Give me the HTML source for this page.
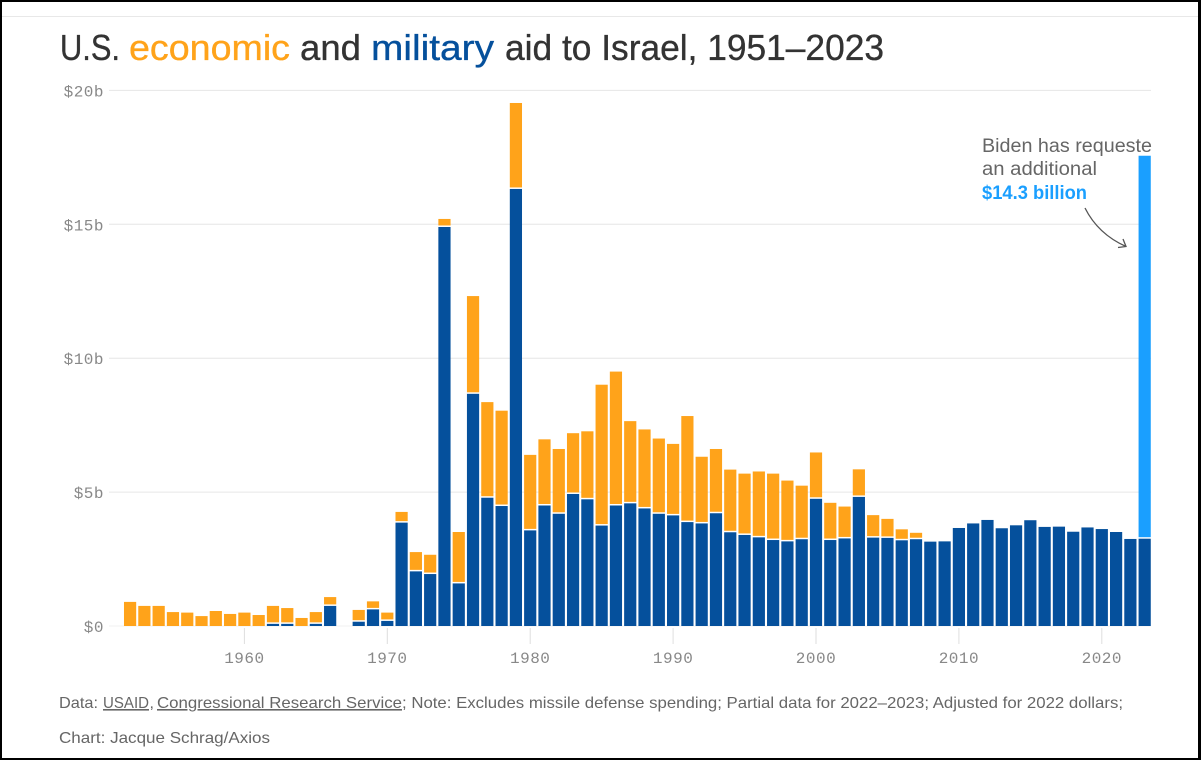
<!DOCTYPE html>
<html lang="en">
<head>
<meta charset="utf-8">
<title>U.S. economic and military aid to Israel, 1951–2023</title>
<style>
  html, body { margin: 0; padding: 0; background: #fff; }
  body { width: 1201px; height: 760px; overflow: hidden; }
  svg { display: block; }
  .title { font-family: "Liberation Sans", sans-serif; font-size: 36px; fill: #333; stroke: currentColor; stroke-width: 0; }
  .tick { font-family: "Liberation Mono", monospace; font-size: 16px; fill: #888; letter-spacing: .5px; }
  .note { font-family: "Liberation Sans", sans-serif; font-size: 19px; fill: #666; }
  .foot { font-family: "Liberation Sans", sans-serif; font-size: 16px; fill: #666; }
</style>
</head>
<body>
<svg id="chart" width="1201" height="760" viewBox="0 0 1201 760" xmlns="http://www.w3.org/2000/svg">
  <rect x="0" y="0" width="1201" height="760" fill="#fff"/>
  <line x1="2" x2="1198" y1="16.5" y2="16.5" stroke="#e8e8e8"/>

  <g>
    <text class="title" x="60" y="60" textLength="60" lengthAdjust="spacingAndGlyphs" style="stroke:#333;stroke-width:.35">U.S.</text>
    <text class="title" x="129" y="60" textLength="161" lengthAdjust="spacingAndGlyphs" style="fill:#ffa31a;stroke:#ffa31a;stroke-width:.35">economic</text>
    <text class="title" x="300" y="60" textLength="61" lengthAdjust="spacingAndGlyphs" style="stroke:#333;stroke-width:.35">and</text>
    <text class="title" x="371" y="60" textLength="123" lengthAdjust="spacingAndGlyphs" style="fill:#05509c;stroke:#05509c;stroke-width:.35">military</text>
    <text class="title" x="505" y="60" textLength="379" lengthAdjust="spacingAndGlyphs" style="stroke:#333;stroke-width:.35">aid to Israel, 1951–2023</text>
  </g>

  <g id="grid"></g>
  <g id="x-ticks"></g>
  <g id="y-ticks"></g>
  <g id="bars"></g>

  <g>
    <text class="note" x="982" y="152" textLength="170" lengthAdjust="spacingAndGlyphs">Biden has requeste</text>
    <text class="note" x="982" y="175" textLength="115" lengthAdjust="spacingAndGlyphs">an additional</text>
    <text class="note" x="982" y="199" textLength="105" lengthAdjust="spacingAndGlyphs" style="fill:#1a9fff;font-weight:bold">$14.3 billion</text>
    <path d="M1085 208 Q1098 234 1126 246.5 M1118 247.5 L1126 246.5 L1123 239" fill="none" stroke="#555" stroke-width="1.3"/>
  </g>

  <g>
    <text class="foot" x="59" y="708" textLength="39" lengthAdjust="spacingAndGlyphs">Data:</text>
    <text class="foot" x="103" y="708" textLength="46" lengthAdjust="spacingAndGlyphs" text-decoration="underline">USAID</text>
    <text class="foot" x="149.5" y="708">,</text>
    <text class="foot" x="157" y="708" textLength="245" lengthAdjust="spacingAndGlyphs" text-decoration="underline">Congressional Research Service</text>
    <text class="foot" x="402" y="708" textLength="721" lengthAdjust="spacingAndGlyphs">; Note: Excludes missile defense spending; Partial data for 2022–2023; Adjusted for 2022 dollars;</text>
    <text class="foot" x="59" y="743" textLength="211" lengthAdjust="spacingAndGlyphs">Chart: Jacque Schrag/Axios</text>
  </g>

  <g>
    <rect x="0" y="0" width="1201" height="2" fill="#000"/>
    <rect x="0" y="0" width="2" height="760" fill="#000"/>
    <rect x="1198" y="0" width="3" height="760" fill="#000"/>
    <rect x="0" y="758" width="1201" height="2" fill="#000"/>
  </g>
</svg>

<script>
const years = [1952,1953,1954,1955,1956,1957,1958,1959,1960,1961,1962,1963,1964,1965,1966,1967,1968,1969,1970,1971,1972,1973,1974,1975,1976,1977,1978,1979,1980,1981,1982,1983,1984,1985,1986,1987,1988,1989,1990,1991,1992,1993,1994,1995,1996,1997,1998,1999,2000,2001,2002,2003,2004,2005,2006,2007,2008,2009,2010,2011,2012,2013,2014,2015,2016,2017,2018,2019,2020,2021,2022,2023];
const military = [0,0,0,0,0,0,0,0,0,0,0.08,0.08,0,0.08,0.75,0,0.16,0.62,0.19,3.86,2.04,1.94,14.9,1.59,8.67,4.79,4.48,16.32,3.57,4.5,4.19,4.93,4.73,3.75,4.5,4.58,4.39,4.19,4.13,3.88,3.83,4.21,3.5,3.4,3.31,3.21,3.16,3.24,4.75,3.21,3.27,4.82,3.3,3.29,3.2,3.24,3.15,3.16,3.66,3.83,3.96,3.65,3.76,3.95,3.7,3.71,3.52,3.68,3.62,3.51,3.25,3.26];
const economic = [0.9,0.75,0.75,0.52,0.5,0.37,0.56,0.45,0.5,0.41,0.67,0.59,0.3,0.44,0.33,0,0.44,0.3,0.31,0.4,0.72,0.72,0.3,1.92,3.65,3.57,3.56,3.21,2.82,2.47,2.42,2.27,2.54,5.26,5.0,3.07,2.95,2.81,2.67,3.96,2.49,2.4,2.34,2.29,2.46,2.48,2.27,2.0,1.73,1.39,1.19,1.03,0.84,0.71,0.41,0.24,0,0,0,0,0,0,0,0,0,0,0,0,0,0,0,0];
const requested = [0,0,0,0,0,0,0,0,0,0,0,0,0,0,0,0,0,0,0,0,0,0,0,0,0,0,0,0,0,0,0,0,0,0,0,0,0,0,0,0,0,0,0,0,0,0,0,0,0,0,0,0,0,0,0,0,0,0,0,0,0,0,0,0,0,0,0,0,0,0,0,14.3];
const yTickValues = [0,5,10,15,20];
const yTickLabels = ["$0","$5b","$10b","$15b","$20b"];
const xTickValues = [1960,1970,1980,1990,2000,2010,2020];

const SVG_NS = "http://www.w3.org/2000/svg";
const xScale = function (year) { return 244.4 + (year - 1960) * 14.29; };
const yScale = function (value) { return 626 - value * 26.78; };
const BAR_W = 12.2;
const SEP = 1.5;

function make(tag, attrs, parent, text) {
  const el = document.createElementNS(SVG_NS, tag);
  for (const k in attrs) el.setAttribute(k, attrs[k]);
  if (text !== undefined) el.textContent = text;
  parent.appendChild(el);
  return el;
}

const gridG = document.getElementById("grid");
const yG = document.getElementById("y-ticks");
yTickValues.forEach(function (v, i) {
  const line = make("line", { x1: 109, x2: 1151, y1: yScale(v), y2: yScale(v), stroke: v === 0 ? "#f0f0f0" : "#e6e6e6", "stroke-width": 1 }, gridG);
  
  
  const label = make("text", { class: "tick", x: 104, y: yScale(v) + 6, "text-anchor": "end" }, yG, yTickLabels[i]);
  
  
});

const xG = document.getElementById("x-ticks");
xTickValues.forEach(function (yr) {
  const tick = make("line", { x1: xScale(yr), x2: xScale(yr), y1: 628, y2: 644, stroke: "#dedede", "stroke-width": 1 }, xG);
  
  
  const label = make("text", { class: "tick", x: xScale(yr), y: 663, "text-anchor": "middle" }, xG, String(yr));
  
  
});

const barsG = document.getElementById("bars");
function drawBar(year, low, high, color, name) {
  let top = yScale(high);
  let bottom = yScale(low);
  if (low > 0) bottom -= SEP;
  const bar = make("rect", { x: xScale(year) - BAR_W / 2, y: top, width: BAR_W, height: Math.max(0, bottom - top), fill: color }, barsG);
  
  
  return bar;
}
years.forEach(function (yr, i) {
  const m = military[i], e = economic[i], r = requested[i];
  if (m > 0) drawBar(yr, 0, m, "#05509c", "bar-military-" + yr);
  if (e > 0) drawBar(yr, m, m + e, "#ffa31a", "bar-economic-" + yr);
  if (r > 0) drawBar(yr, m + e, m + e + r, "#1a9fff", "bar-requested-" + yr);
});
</script>
</body>
</html>
